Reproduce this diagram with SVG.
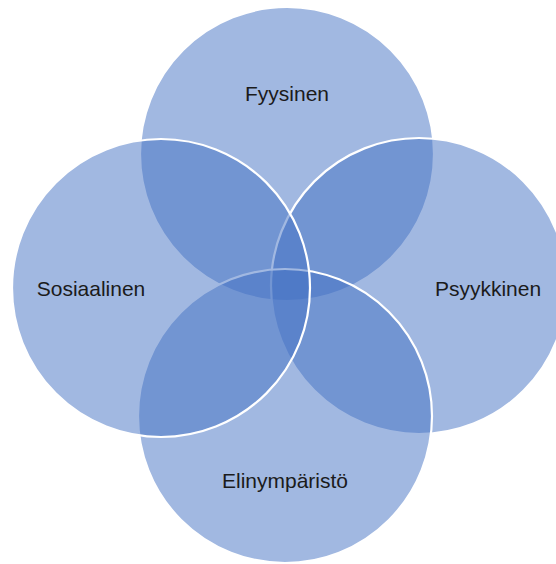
<svg xmlns="http://www.w3.org/2000/svg" width="556" height="564" viewBox="0 0 556 564">
<style>
.c{fill:#4472C4;fill-opacity:0.5;stroke:#ffffff;stroke-width:2.2}
.t{font-family:"Liberation Sans",Arial,sans-serif;font-size:21px;fill:#1b1b1b;text-anchor:middle}
</style>
<rect width="556" height="564" fill="#ffffff"/>
<g id="fyysinen"><circle class="c" cx="287" cy="154" r="147"/></g>
<g id="psyykkinen"><circle class="c" cx="419" cy="286" r="148"/></g>
<g id="elinymparisto"><circle class="c" cx="285" cy="416" r="147"/></g>
<g id="sosiaalinen"><circle class="c" cx="161" cy="288" r="149"/></g>
<g id="connectors"></g>
<g id="labels">
<text class="t" x="287" y="101">Fyysinen</text>
<text class="t" x="488" y="296">Psyykkinen</text>
<text class="t" x="285" y="488">Elinympäristö</text>
<text class="t" x="91" y="296">Sosiaalinen</text>
</g>
</svg>
